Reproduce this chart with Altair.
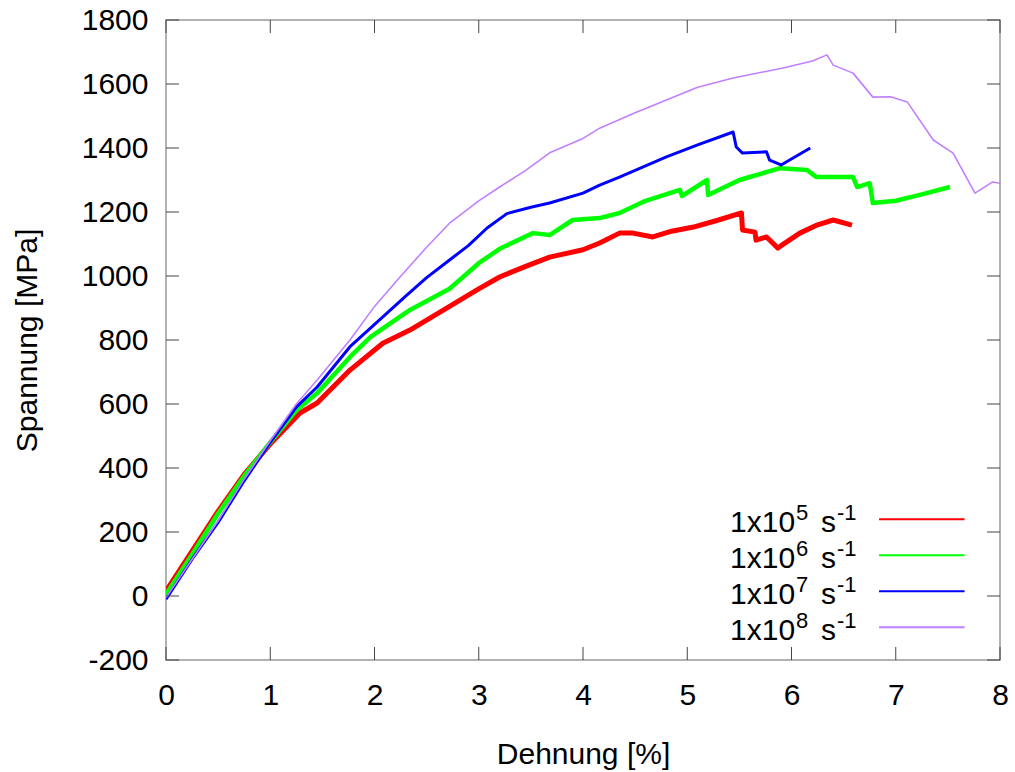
import altair as alt
import pandas as pd

# ---- data ----
strain_1e5 = [0.0, 0.25, 0.5, 0.75, 1.0, 1.285, 1.45, 1.765, 2.08, 2.34, 2.72, 3.0, 3.2, 3.45, 3.68,
              4.0, 4.16, 4.35, 4.48, 4.67, 4.85, 5.06, 5.3, 5.52, 5.53, 5.65, 5.66, 5.76, 5.87, 5.9,
              6.08, 6.25, 6.4, 6.58]
stress_1e5 = [15, 140, 265, 380, 475, 572, 603, 706, 790, 831, 905, 960, 997, 1030, 1059,
              1082, 1103, 1134, 1134, 1122, 1140, 1153, 1175, 1197, 1144, 1137, 1112, 1122, 1087, 1095,
              1134, 1160, 1175, 1159]

strain_1e6 = [0.0, 0.25, 0.5, 0.75, 1.0, 1.25, 1.45, 1.765, 1.96, 2.34, 2.72, 3.0, 3.2, 3.52, 3.68,
              3.9, 4.16, 4.35, 4.6, 4.93, 4.95, 5.19, 5.2, 5.5, 5.89, 6.15, 6.24, 6.59, 6.63, 6.75,
              6.78, 7.0, 7.25, 7.52]
stress_1e6 = [5, 130, 258, 375, 480, 580, 634, 747, 809, 894, 960, 1040, 1085, 1134, 1128,
              1175, 1181, 1197, 1235, 1269, 1250, 1300, 1253, 1300, 1337, 1331, 1309, 1309, 1278, 1290,
              1228, 1235, 1255, 1278]

strain_1e7 = [0.0, 0.25, 0.5, 0.75, 1.0, 1.25, 1.45, 1.765, 2.08, 2.31, 2.5, 2.72, 2.9, 3.08, 3.27,
              3.5, 3.68, 4.0, 4.16, 4.35, 4.8, 5.1, 5.44, 5.47, 5.53, 5.76, 5.79, 5.9, 6.18]
stress_1e7 = [-10, 115, 230, 360, 480, 590, 653, 779, 872, 940, 995, 1050, 1095, 1150, 1195,
              1215, 1228, 1259, 1284, 1309, 1372, 1410, 1450, 1403, 1384, 1388, 1362, 1347, 1400]

strain_1e8 = [0.0, 0.25, 0.5, 0.75, 1.0, 1.25, 1.45, 1.765, 2.0, 2.245, 2.5, 2.72, 3.0, 3.2, 3.45,
              3.68, 4.0, 4.16, 4.5, 4.8, 5.1, 5.44, 5.92, 6.2, 6.34, 6.4, 6.59, 6.78, 6.95, 7.11,
              7.36, 7.55, 7.76, 7.93, 8.0]
stress_1e8 = [-5, 115, 235, 365, 485, 600, 675, 800, 905, 997, 1090, 1165, 1235, 1278, 1330,
              1385, 1430, 1462, 1510, 1550, 1590, 1619, 1650, 1672, 1691, 1659, 1634, 1559, 1560, 1544,
              1425, 1384, 1259, 1294, 1290]

series_names = ["1x10^5 s^-1", "1x10^6 s^-1", "1x10^7 s^-1", "1x10^8 s^-1"]
legend_base = ["1x10", "1x10", "1x10", "1x10"]
legend_exp = ["5", "6", "7", "8"]
legend_unit = ["s", "s", "s", "s"]
legend_unit_exp = ["-1", "-1", "-1", "-1"]
series_colors = ["#ff0000", "#00ff00", "#0000ff", "#c080ff"]
series_widths = [5, 4.5, 3, 1.6]

x_ticks = [0, 1, 2, 3, 4, 5, 6, 7, 8]
y_ticks = [-200, 0, 200, 400, 600, 800, 1000, 1200, 1400, 1600, 1800]

FONT = "Liberation Sans"
W, H = 834, 640

xs = alt.Scale(domain=[0, 8], nice=False, zero=False)
ys = alt.Scale(domain=[-200, 1800], nice=False, zero=False)
x_axis = alt.Axis(values=x_ticks, labelExpr="'' + datum.value", title="Dehnung [%]")
y_axis = alt.Axis(values=y_ticks, labelExpr="'' + datum.value", title="Spannung [MPa]")


def X(field):
    return alt.X(f"{field}:Q", scale=xs, axis=x_axis)


def Y(field):
    return alt.Y(f"{field}:Q", scale=ys, axis=y_axis)


all_strain = [strain_1e5, strain_1e6, strain_1e7, strain_1e8]
all_stress = [stress_1e5, stress_1e6, stress_1e7, stress_1e8]

layers = []
for col, wd, sx, sy in zip(series_colors, series_widths, all_strain, all_stress):
    df = pd.DataFrame({"strain": sx, "stress": sy, "idx": range(len(sx))})
    layers.append(
        alt.Chart(df).mark_line(color=col, strokeWidth=wd, strokeJoin="round", clip=True)
        .encode(x=X("strain"), y=Y("stress"), order="idx:Q")
    )

# inward ticks on all four sides
xt = pd.DataFrame({"strain": x_ticks})
yt = pd.DataFrame({"stress": y_ticks})
TICK = 13
tick_color = "#444444"
layers.append(alt.Chart(xt).mark_rule(color=tick_color, strokeWidth=1)
              .encode(x=X("strain"), y=alt.value(H), y2=alt.value(H - TICK)))
layers.append(alt.Chart(xt).mark_rule(color=tick_color, strokeWidth=1)
              .encode(x=X("strain"), y=alt.value(0), y2=alt.value(TICK)))
layers.append(alt.Chart(yt).mark_rule(color=tick_color, strokeWidth=1)
              .encode(y=Y("stress"), x=alt.value(0), x2=alt.value(TICK)))
layers.append(alt.Chart(yt).mark_rule(color=tick_color, strokeWidth=1)
              .encode(y=Y("stress"), x=alt.value(W), x2=alt.value(W - TICK)))

# legend (inside, bottom right), placed in data coordinates
leg = pd.DataFrame({
    "name": series_names,
    "base": legend_base,
    "exp": legend_exp,
    "unit": legend_unit,
    "uexp": legend_unit_exp,
    "lx1": [6.84] * 4,
    "lx2": [7.66] * 4,
    "tx": [5.439] * 4,
    "ly": [240 - 112.5 * i for i in range(4)],
})
color_enc = alt.Color("name:N", scale=alt.Scale(domain=series_names, range=series_colors), legend=None)
layers.append(alt.Chart(leg).mark_rule(strokeWidth=2)
              .encode(x=X("lx1"), x2="lx2:Q", y=Y("ly"), color=color_enc))
text_parts = [("base", 30, -3, 13), ("exp", 22, 63, 1), ("unit", 30, 88, 13), ("uexp", 22, 104, 1)]
for field, fs, dx, dy in text_parts:
    layers.append(
        alt.Chart(leg).mark_text(align="left", baseline="alphabetic", font=FONT, fontSize=fs,
                                 color="black", dx=dx, dy=dy)
        .encode(x=X("tx"), y=Y("ly"), text=f"{field}:N")
    )

chart = alt.layer(*layers).properties(
    width=W, height=H,
    autosize=alt.AutoSizeParams(type="none"),
    padding={"left": 166, "top": 20, "right": 15, "bottom": 112},
    background="white",
).configure_view(
    stroke="#999999", strokeWidth=1.5
).configure_axis(
    domain=False, ticks=False, grid=False, labelFlush=False,
    labelFont=FONT, labelFontSize=30, labelColor="black",
    titleFont=FONT, titleFontSize=30, titleFontWeight="normal", titleColor="black",
).configure_axisX(
    labelPadding=20, titlePadding=29
).configure_axisY(
    labelPadding=18, titlePadding=39
)

chart.save("out.html", embed_options={"renderer": "svg", "actions": False})
